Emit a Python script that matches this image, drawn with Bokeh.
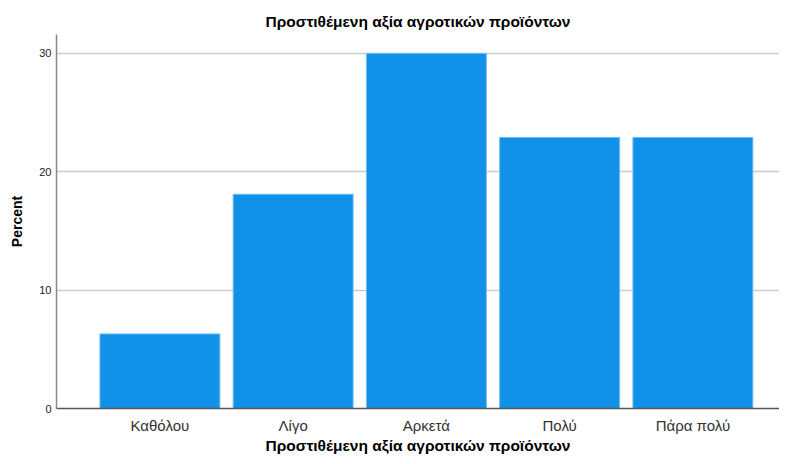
from bokeh.plotting import figure
from bokeh.models import ColumnDataSource, FixedTicker, Range1d
from bokeh.embed import file_html
from bokeh.resources import INLINE

categories = ["Καθόλου", "Λίγο", "Αρκετά", "Πολύ", "Πάρα πολύ"]
percent = [6.3, 18.1, 30.0, 22.9, 22.9]
y_ticks = [0, 10, 20, 30]
title_text = "Προστιθέμενη αξία αγροτικών προϊόντων"

xpos = list(range(len(categories)))
src = ColumnDataSource(dict(x=xpos, top=percent, cat=categories))

FONT = "Liberation Sans"

p = figure(width=779, height=456, output_backend="svg", toolbar_location=None,
           x_range=Range1d(-0.776, 4.65), y_range=Range1d(0, 31.6),
           min_border_left=56, min_border_right=0, min_border_top=34, min_border_bottom=0)

p.vbar(x="x", top="top", width=0.9, source=src, fill_color="#1192e8",
       line_color="#6bbcf5", line_width=1)

p.title.text = title_text
p.title.align = "center"
p.title.text_font = FONT
p.title.text_font_size = "15.5px"
p.title.text_font_style = "bold"
p.title.text_color = "#000000"
p.title.offset = 0
p.title.standoff = 10

p.xaxis.ticker = FixedTicker(ticks=xpos)
p.xaxis.major_label_overrides = {i: c for i, c in enumerate(categories)}
p.xaxis.major_label_text_font = FONT
p.xaxis.major_label_text_font_size = "15px"
p.xaxis.major_label_text_color = "#333333"
p.xaxis.major_tick_line_color = None
p.xaxis.minor_tick_line_color = None
p.xaxis.major_tick_out = 0
p.xaxis.axis_line_color = "#555555"
p.xaxis.axis_line_width = 1.5
p.xaxis.major_label_standoff = 8
p.xaxis.axis_label = title_text
p.xaxis.axis_label_text_font = FONT
p.xaxis.axis_label_text_font_size = "15.5px"
p.xaxis.axis_label_text_font_style = "bold"
p.xaxis.axis_label_text_color = "#000000"
p.xaxis.axis_label_standoff = 0

p.yaxis.ticker = FixedTicker(ticks=y_ticks)
p.yaxis.major_label_text_font = FONT
p.yaxis.major_label_text_font_size = "11px"
p.yaxis.major_label_text_color = "#222222"
p.yaxis.major_tick_line_color = None
p.yaxis.minor_tick_line_color = None
p.yaxis.major_tick_out = 0
p.yaxis.axis_line_color = "#888888"
p.yaxis.axis_line_width = 1.5
p.yaxis.major_label_standoff = 5
p.yaxis.axis_label = "Percent"
p.yaxis.axis_label_text_font = FONT
p.yaxis.axis_label_text_font_size = "14px"
p.yaxis.axis_label_text_font_style = "bold"
p.yaxis.axis_label_text_color = "#000000"
p.yaxis.axis_label_standoff = 11

p.xgrid.grid_line_color = None
p.ygrid.ticker = FixedTicker(ticks=[10, 20, 30])
p.ygrid.grid_line_color = "#cccccc"
p.ygrid.grid_line_width = 1.5
p.outline_line_color = None
p.background_fill_color = "white"
p.border_fill_color = "white"

open("out.html", "w").write(file_html(p, INLINE))
